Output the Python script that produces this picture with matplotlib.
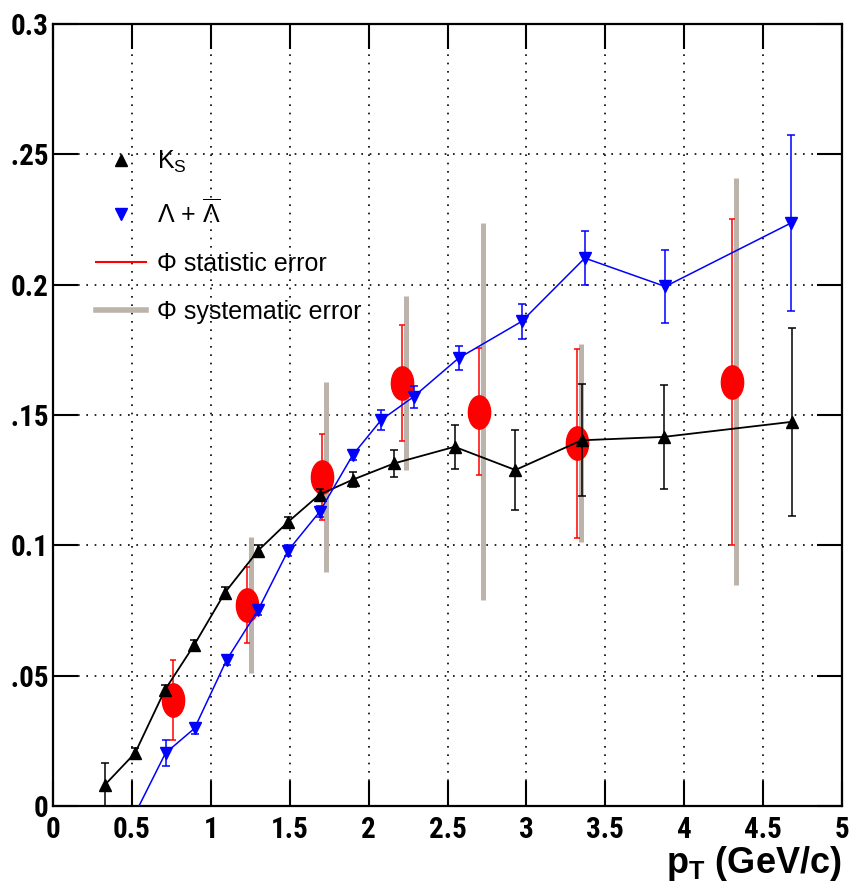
import numpy as np
import matplotlib
matplotlib.use("Agg")
import matplotlib.pyplot as plt
from matplotlib import font_manager
from matplotlib.lines import Line2D
from matplotlib.path import Path
from matplotlib.transforms import Affine2D, Bbox

# K0s / (Lambda+antiLambda) / phi ratio-type values
ks_x = [0.33, 0.52, 0.71, 0.895, 1.09, 1.30, 1.49, 1.69, 1.90, 2.16, 2.545, 2.93, 3.35, 3.87, 4.685]
ks_y = [0.0082, 0.0203, 0.0446, 0.0618, 0.0819, 0.0980, 0.1090, 0.1195, 0.1252, 0.1314, 0.1378, 0.1289, 0.1403, 0.1416, 0.1474]
ks_err = [0.0082, 0.002, 0.002, 0.002, 0.002, 0.002, 0.002, 0.002, 0.003, 0.0053, 0.0084, 0.0155, 0.0215, 0.020, 0.036]

lam_x = [0.52, 0.713, 0.897, 1.10, 1.30, 1.49, 1.69, 1.90, 2.08, 2.285, 2.57, 2.97, 3.37, 3.88, 4.675]
lam_y = [-0.003, 0.0203, 0.0298, 0.0560, 0.0752, 0.0980, 0.1129, 0.1347, 0.1481, 0.1570, 0.1718, 0.1859, 0.2102, 0.1993, 0.2236]
lam_err = [0.002, 0.005, 0.002, 0.002, 0.002, 0.002, 0.002, 0.002, 0.004, 0.0043, 0.0046, 0.0067, 0.0105, 0.014, 0.0337]

phi_x = [0.759, 1.227, 1.705, 2.21, 2.70, 3.32, 4.305]
phi_y = [0.0407, 0.0771, 0.1262, 0.1622, 0.1513, 0.1392, 0.1628]
phi_stat = [0.0155, 0.0144, 0.0165, 0.0223, 0.0245, 0.0362, 0.0625]
phi_sys = [0.005, 0.026, 0.0365, 0.0333, 0.0723, 0.0380, 0.0780]

x_ticks = [0, 0.5, 1, 1.5, 2, 2.5, 3, 3.5, 4, 4.5, 5]
x_tick_labels = ["0", "0.5", "1", "1.5", "2", "2.5", "3", "3.5", "4", "4.5", "5"]
y_ticks = [0, 0.05, 0.1, 0.15, 0.2, 0.25, 0.3]
y_tick_labels = ["0", "0.05", "0.1", "0.15", "0.2", "0.25", "0.3"]

legend_labels = ["K$_\\mathregular{S}$",
                 "Λ + $\\overline{\\mathregular{Λ}}$",
                 "Φ statistic error",
                 "Φ systematic error"]

SYS_GREY = "#bcb4aa"

names = {f.name for f in font_manager.fontManager.ttflist}
tick_font, tick_size = "Liberation Sans", 18
for cand in ["Liberation Sans Narrow", "Roboto Condensed", "Open Sans Condensed", "Noto Sans Condensed"]:
    if cand in names:
        tick_font, tick_size = cand, 21
        break

fig = plt.figure(figsize=(8.52, 8.88), dpi=100)
ax = fig.add_axes([53 / 852, 1 - 806 / 888, (842 - 53) / 852, (806 - 24) / 888])

ax.set_xlim(0, 5)
ax.set_ylim(0, 0.3)
ax.set_axisbelow(True)
ax.grid(True, color="black", linestyle=(0, (1, 4)), linewidth=1.2)

# phi: systematic (grey band, slightly offset) then statistic (red) + ellipse marker
ellipse = Path.unit_circle().transformed(Affine2D().scale(0.667, 1.0))
ax.errorbar(np.array(phi_x) + 0.025, phi_y, yerr=phi_sys, fmt="none",
            ecolor=SYS_GREY, elinewidth=3.6, capsize=0, zorder=2)
ax.errorbar(phi_x, phi_y, yerr=phi_stat, fmt="none", ecolor="red",
            elinewidth=1.1, capsize=2.5, capthick=1.1, zorder=3)
ax.plot(phi_x, phi_y, ls="none", marker=ellipse, ms=24, color="red", mec="red", zorder=3)

# K_S
ax.errorbar(ks_x, ks_y, yerr=ks_err, fmt="none", ecolor="black",
            elinewidth=1.1, capsize=3, capthick=1.1, zorder=4)
ax.plot(ks_x, ks_y, "-", color="black", lw=1.3, marker="^", ms=8, zorder=5)

# Lambda + anti-Lambda
ax.errorbar(lam_x, lam_y, yerr=lam_err, fmt="none", ecolor="blue",
            elinewidth=1.1, capsize=3, capthick=1.1, zorder=4)
ax.plot(lam_x, lam_y, "-", color="blue", lw=1.1, marker="v", ms=8, zorder=5)

ax.set_xticks(x_ticks)
ax.set_xticklabels(x_tick_labels)
ax.set_yticks(y_ticks)
ax.set_yticklabels(y_tick_labels)
for lab in ax.get_xticklabels() + ax.get_yticklabels():
    lab.set_fontfamily(tick_font)
    lab.set_fontweight("bold")
    lab.set_fontsize(tick_size)
ax.tick_params(direction="in", length=18, width=1.5, top=True, right=True)
ax.tick_params(axis="x", pad=7)
ax.tick_params(axis="y", pad=3)
for sp in ax.spines.values():
    sp.set_linewidth(1.6)

# the left edge of the y labels is cut off in the reference
clip = Bbox.from_extents(12, 0, 852, 888)
for t in ax.yaxis.get_major_ticks():
    t.label1.set_clip_box(clip)
    t.label1.set_clip_on(True)

ax.set_xlabel("p$_\\mathregular{T}$ (GeV/c)", fontsize=26, fontweight="bold",
              family="Liberation Sans", loc="right")
ax.xaxis.set_label_coords(1.0, -0.048)

handles = [Line2D([], [], ls="none", marker="^", color="black", ms=8),
           Line2D([], [], ls="none", marker="v", color="blue", ms=8),
           Line2D([], [], color="red", lw=1.5),
           Line2D([], [], color=SYS_GREY, lw=4)]
ax.legend(handles, legend_labels, loc="upper left", bbox_to_anchor=(0.054, 0.840),
          frameon=False, prop={"family": "Liberation Sans", "size": 18},
          handlelength=2.0, handletextpad=0.45, labelspacing=0.95,
          borderpad=0, borderaxespad=0)

fig.savefig("out.png", dpi=100)
